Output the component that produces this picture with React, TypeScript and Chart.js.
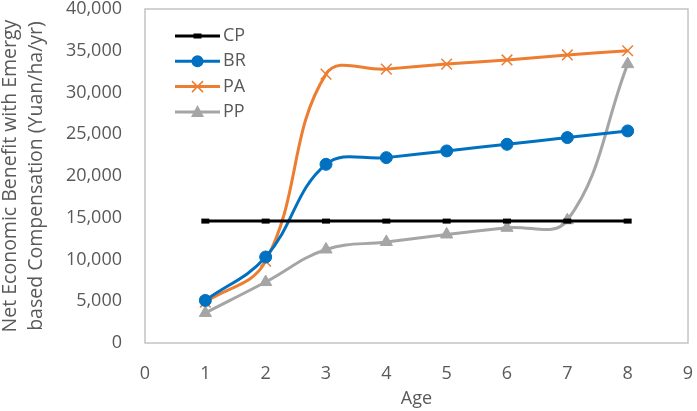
import React, { useEffect, useRef } from 'react';
import { Chart, registerables } from 'chart.js';

Chart.register(...registerables);

const ages = [1, 2, 3, 4, 5, 6, 7, 8];
const seriesNames = ['CP', 'BR', 'PA', 'PP'];
const cpValues = [14600, 14600, 14600, 14600, 14600, 14600, 14600, 14600];
const brValues = [5100, 10300, 21400, 22200, 23000, 23800, 24600, 25400];
const paValues = [4900, 9800, 32200, 32800, 33400, 33900, 34500, 35000];
const ppValues = [3600, 7300, 11200, 12100, 13000, 13800, 14700, 33400];
const seriesColors = ['#000000', '#0070C0', '#ED7D31', '#A5A5A5'];
const yTitleLines = ['Net Economic Benefit with Emergy', 'based Compensation (Yuan/ha/yr)'];
const xTitle = 'Age';

const TEXT = '#595959';
const FONT = '"Open Sans", sans-serif';

function drawMarker(ctx: CanvasRenderingContext2D, style: string, x: number, y: number, color: string) {
  ctx.save();
  ctx.fillStyle = color;
  ctx.strokeStyle = color;
  if (style === 'circle') {
    ctx.beginPath();
    ctx.arc(x, y, 6, 0, Math.PI * 2);
    ctx.fill();
  } else if (style === 'crossRot') {
    ctx.lineWidth = 1.5;
    const r = 5.5;
    ctx.beginPath();
    ctx.moveTo(x - r, y - r);
    ctx.lineTo(x + r, y + r);
    ctx.moveTo(x - r, y + r);
    ctx.lineTo(x + r, y - r);
    ctx.stroke();
  } else if (style === 'triangle') {
    ctx.beginPath();
    ctx.moveTo(x, y - 7);
    ctx.lineTo(x + 6.5, y + 5);
    ctx.lineTo(x - 6.5, y + 5);
    ctx.closePath();
    ctx.fill();
  } else if (style === 'line') {
    ctx.fillRect(x - 4, y - 2.5, 8, 5);
  }
  ctx.restore();
}

const frameAndLegend = {
  id: 'frameAndLegend',
  beforeDatasetsDraw(chart: any) {
    const { ctx, chartArea } = chart;
    ctx.save();
    ctx.strokeStyle = '#c4c4c4';
    ctx.lineWidth = 1.5;
    ctx.strokeRect(chartArea.left, chartArea.top, chartArea.right - chartArea.left, chartArea.bottom - chartArea.top);
    ctx.restore();
  },
  afterDraw(chart: any) {
    const { ctx, chartArea } = chart;
    ctx.save();
    chart.data.datasets.forEach((ds: any, i: number) => {
      const y = chartArea.top + 27 + i * 25.3;
      const x0 = chartArea.left + 30;
      const x1 = chartArea.left + 75;
      ctx.strokeStyle = ds.borderColor;
      ctx.lineWidth = 3;
      ctx.beginPath();
      ctx.moveTo(x0, y);
      ctx.lineTo(x1, y);
      ctx.stroke();
      drawMarker(ctx, ds.pointStyle, (x0 + x1) / 2, y, ds.borderColor);
      ctx.fillStyle = TEXT;
      ctx.font = `18px ${FONT}`;
      ctx.textBaseline = 'middle';
      ctx.textAlign = 'left';
      ctx.fillText(ds.label, x1 + 3, y);
    });
    ctx.restore();
  },
};

export default function App() {
  const ref = useRef<HTMLCanvasElement | null>(null);

  useEffect(() => {
    if (!ref.current) return;
    Chart.defaults.font.family = FONT;
    const valueSets = [cpValues, brValues, paValues, ppValues];
    const styles = ['line', 'circle', 'crossRot', 'triangle'];
    const datasets = seriesNames.map((name, i) => ({
      label: name,
      data: ages.map((a, j) => ({ x: a, y: valueSets[i][j] })),
      borderColor: seriesColors[i],
      backgroundColor: seriesColors[i],
      borderWidth: 3,
      tension: i === 0 ? 0 : 0.4,
      pointStyle: styles[i],
      pointRadius: i === 0 ? 4 : i === 1 ? 6 : i === 2 ? 7.5 : 7,
      pointBorderWidth: i === 0 ? 5 : i === 2 ? 1.5 : 1,
      pointBackgroundColor: seriesColors[i],
      pointBorderColor: seriesColors[i],
    }));

    const chart = new Chart(ref.current, {
      type: 'line',
      data: { datasets },
      plugins: [frameAndLegend],
      options: {
        animation: false,
        responsive: true,
        maintainAspectRatio: false,
        layout: { padding: { top: 7, right: 5, left: 0, bottom: 0 } },
        plugins: { legend: { display: false }, tooltip: { enabled: false } },
        scales: {
          x: {
            type: 'linear',
            min: 0,
            max: 9,
            ticks: { stepSize: 1, color: TEXT, font: { size: 18 }, padding: 12 },
            grid: { display: false },
            border: { display: false },
            title: { display: true, text: xTitle, color: TEXT, font: { size: 18 }, padding: { top: 0, bottom: 1 } },
            afterFit: (s: any) => {
              s.height = 68;
              s.paddingLeft = 0;
              s.paddingRight = 0;
            },
          },
          y: {
            min: 0,
            max: 40000,
            ticks: { stepSize: 5000, color: TEXT, font: { size: 18 }, padding: 15 },
            grid: { display: false },
            border: { display: false },
            title: {
              display: true,
              text: yTitleLines,
              color: TEXT,
              font: { size: 19.5, lineHeight: 1.3 },
              padding: { top: -2, bottom: 0 },
            },
            afterFit: (s: any) => {
              s.width = 145;
              s.paddingTop = 0;
              s.paddingBottom = 0;
            },
          },
        },
      },
    });
    return () => chart.destroy();
  }, []);

  return (
    <div style={{ position: 'fixed', left: 0, top: 0, width: 697, height: 411, background: '#fff' }}>
      <canvas ref={ref} />
    </div>
  );
}
